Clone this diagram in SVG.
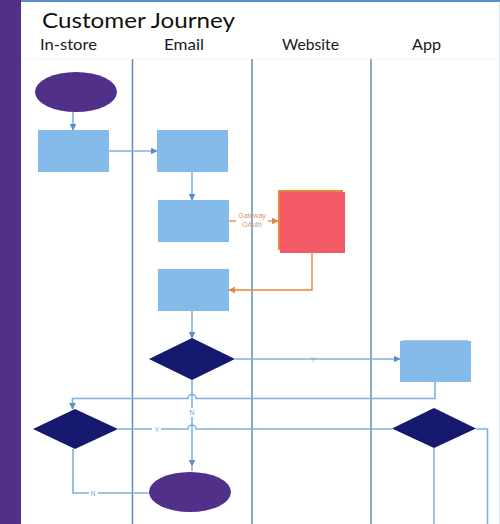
<svg xmlns="http://www.w3.org/2000/svg" width="500" height="524" viewBox="0 0 500 524">
<style>
.lane{stroke:#5f8dbd;stroke-width:1.5;fill:none}
.hdr{font-family:"Lato","Open Sans",sans-serif;font-size:15px;fill:#1a1a1a}
.box{fill:#85bbea}
.dia{fill:#151a6e}
.ell{fill:#51308a}
.c{stroke:#7fb2e0;stroke-width:1.6;fill:none}
.co{stroke:#e8873a;stroke-width:1.4;fill:none}
.lbl{font-family:"Liberation Sans",Arial,sans-serif;font-size:7px;fill:#7fa8d0;text-anchor:middle}
.lblo{font-family:"Liberation Sans",Arial,sans-serif;font-size:7px;fill:#d9956a;text-anchor:middle}
</style>
<defs>
<marker id="ab" viewBox="0 0 10 10" refX="9" refY="5" markerWidth="7" markerHeight="7" markerUnits="userSpaceOnUse" orient="auto"><path d="M0,0 L10,5 L0,10 Z" fill="#5b8fc7"/></marker>
<marker id="ao" viewBox="0 0 10 10" refX="9" refY="5" markerWidth="7" markerHeight="7" markerUnits="userSpaceOnUse" orient="auto"><path d="M0,0 L10,5 L0,10 Z" fill="#e8873a"/></marker>
</defs>
<rect x="0" y="0" width="500" height="524" fill="#ffffff"/>
<g id="frame">
<rect x="0" y="0" width="21" height="524" fill="#51308a"/>
<line x1="21" y1="1" x2="500" y2="1" stroke="#5b8fc7" stroke-width="2"/>
<line x1="499.5" y1="2" x2="499.5" y2="524" stroke="#d8e4f0" stroke-width="1"/>
<line x1="21" y1="59" x2="499" y2="59" stroke="#fbf6e8" stroke-width="1"/>
<text x="42" y="28" font-family="Lato,'Open Sans',sans-serif" font-size="22" fill="#111" textLength="193" lengthAdjust="spacingAndGlyphs">Customer Journey</text>
<text class="hdr" x="40" y="50" textLength="57" lengthAdjust="spacingAndGlyphs">In-store</text>
<text class="hdr" x="164" y="50" textLength="40" lengthAdjust="spacingAndGlyphs">Email</text>
<text class="hdr" x="282" y="50" textLength="57" lengthAdjust="spacingAndGlyphs">Website</text>
<text class="hdr" x="412" y="50" textLength="29" lengthAdjust="spacingAndGlyphs">App</text>
<line class="lane" x1="132.5" y1="59" x2="132.5" y2="524"/>
<line class="lane" x1="252" y1="59" x2="252" y2="524"/>
<line class="lane" x1="371" y1="59" x2="371" y2="524"/>
</g>
<g id="connectors">
<path class="c" d="M73,112 V130" marker-end="url(#ab)"/>
<path class="c" d="M109,151 H157" marker-end="url(#ab)"/>
<path class="c" d="M192,172 V200" marker-end="url(#ab)"/>
<path class="co" d="M229,221 H236"/>
<path class="co" d="M268,221 H278" marker-end="url(#ao)"/>
<text class="lblo" x="252" y="218">Gateway</text>
<text class="lblo" x="252" y="227">OAuth</text>
<path class="co" d="M312,253 V290 H229" marker-end="url(#ao)"/>
<path class="c" d="M192,311 V338" marker-end="url(#ab)"/>
<path class="c" d="M235,359 H400" marker-end="url(#ab)"/>
<text class="lbl" x="313" y="361.5">Y</text>
<path class="c" d="M435,382 V398.5 H196 A4,4 0 0 0 188,398.5 H72.5 V409" marker-end="url(#ab)"/>
<path class="c" d="M192,380 V471"/>
<path d="M192,466 l-3.5,-6 h7 Z" fill="#5b8fc7"/>
<rect x="188" y="408" width="8" height="9" fill="#fff"/>
<text class="lbl" x="192" y="415">N</text>
<path class="c" d="M118,429 H188 A4,4 0 0 1 196,429 H392"/>
<rect x="152" y="425" width="9" height="8" fill="#fff"/>
<text class="lbl" x="157" y="431.5">Y</text>
<path class="c" d="M476,429 H487.5 V524"/>
<path class="c" d="M434,448 V524"/>
<path class="c" d="M73,449 V493 H149"/>
<rect x="89" y="489" width="9" height="8" fill="#fff"/>
<text class="lbl" x="93" y="495.5">N</text>
</g>
<g id="start"><ellipse class="ell" cx="76" cy="92" rx="41" ry="20"/></g>
<g id="box1"><rect class="box" x="38" y="130" width="71" height="42"/></g>
<g id="box2"><rect class="box" x="157" y="130" width="71" height="42"/></g>
<g id="box3"><rect class="box" x="158" y="200" width="71" height="42"/></g>
<g id="gateway">
<rect x="278" y="190" width="65" height="60" fill="#e8873a"/>
<rect x="280" y="192" width="65" height="61" fill="#f25a66"/>
</g>
<g id="box4"><rect class="box" x="158" y="269" width="71" height="42"/></g>
<g id="decision1"><polygon class="dia" points="192,338 235,359 192,380 149,359"/></g>
<g id="appbox">
<line x1="402" y1="340.5" x2="468" y2="340.5" stroke="#a8c8e8" stroke-width="1"/>
<rect class="box" x="400" y="341" width="71" height="41"/>
</g>
<g id="decision2"><polygon class="dia" points="75,409 118,429 75,449 33,429"/></g>
<g id="decision3"><polygon class="dia" points="434,408 476,428.5 434,448 392,428.5"/></g>
<g id="end"><ellipse class="ell" cx="190" cy="492" rx="41" ry="20"/></g>
</svg>
